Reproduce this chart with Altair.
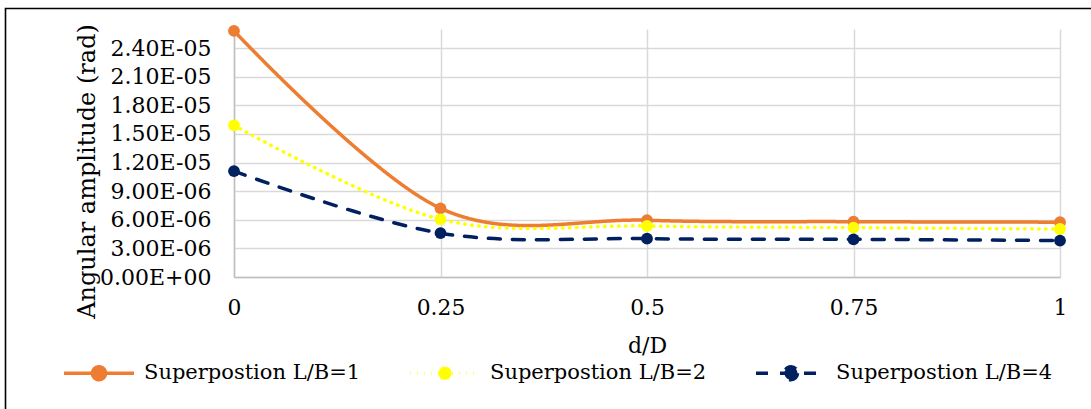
import altair as alt
import pandas as pd

# d/D positions
d_over_D = [0, 0.25, 0.5, 0.75, 1]

series_names = ["Superpostion L/B=1", "Superpostion L/B=2", "Superpostion L/B=4"]

# Angular amplitude (rad) for each aspect ratio
amp_lb1 = [2.58e-05, 7.20e-06, 5.95e-06, 5.80e-06, 5.75e-06]
amp_lb2 = [1.59e-05, 6.05e-06, 5.35e-06, 5.17e-06, 5.03e-06]
amp_lb4 = [1.11e-05, 4.60e-06, 4.02e-06, 3.95e-06, 3.82e-06]

series_colors = ["#ED7D31", "#FFFF00", "#002060"]
series_dashes = [[1, 0], [0.5, 6.5], [12, 12]]

y_tick_values = [0, 3e-06, 6e-06, 9e-06, 1.2e-05, 1.5e-05, 1.8e-05, 2.1e-05, 2.4e-05]
y_max = 2.6e-05

rows = []
for name, values in zip(series_names, [amp_lb1, amp_lb2, amp_lb4]):
    for x, v in zip(d_over_D, values):
        rows.append({"series": name, "dD": x, "amp": v})
df = pd.DataFrame(rows)

# Excel-style scientific labels, e.g. 2.40E-05
sci_label = (
    "datum.value == 0 ? '0.00E+00' : "
    "format(datum.value / pow(10, floor(log(datum.value) / LN10 + 1e-9)), '.2f') + 'E' + "
    "(floor(log(datum.value) / LN10 + 1e-9) < 0 ? '-' : '+') + "
    "(abs(floor(log(datum.value) / LN10 + 1e-9)) < 10 ? '0' : '') + "
    "abs(floor(log(datum.value) / LN10 + 1e-9))"
)

x_enc = alt.X(
    "dD:Q",
    scale=alt.Scale(domain=[0, 1], nice=False, zero=False),
    axis=alt.Axis(
        values=d_over_D,
        tickCount=len(d_over_D),
        labelExpr="'' + datum.value",
        title="d/D",
        ticks=False,
        labelFontSize=21.8,
        labelPadding=20,
        labelFlush=False,
        labelOverlap=False,
        titleFontSize=22,
        titleFontWeight="normal",
        titleY=68,
        titleX=413,
        titleBaseline="middle",
        titleAlign="center",
        grid=True,
    ),
)
y_enc = alt.Y(
    "amp:Q",
    scale=alt.Scale(domain=[0, y_max], nice=False),
    axis=alt.Axis(
        values=y_tick_values,
        tickCount=len(y_tick_values),
        labelExpr=sci_label,
        title="Angular amplitude (rad)",
        ticks=False,
        labelFontSize=22,
        labelPadding=23,
        labelOverlap=False,
        labelFlush=False,
        titleFontSize=24,
        titleFontWeight="normal",
        titleAngle=-90,
        titleX=-147,
        titleY=142,
        titleAlign="center",
        titleBaseline="middle",
        grid=True,
    ),
)

color_scale = alt.Scale(domain=series_names, range=series_colors)
dash_scale = alt.Scale(domain=series_names, range=series_dashes)

legend = alt.Legend(
    title=None,
    orient="none",
    direction="horizontal",
    legendX=-147,
    legendY=332,
    symbolType="M-3.5,0H3.5M0.65,0A0.65,0.65,0,1,1,-0.65,0A0.65,0.65,0,1,1,0.65,0Z",
    symbolSize=400,
    symbolStrokeWidth=3.5,
    labelFontSize=21,
    labelLimit=0,
    labelOffset=33,
    columnPadding=42,
)

lines = alt.Chart(df).mark_line(
    interpolate="cardinal", strokeWidth=3.5, strokeCap="round"
).encode(
    x=x_enc,
    y=y_enc,
    color=alt.Color("series:N", scale=color_scale, legend=legend),
    strokeDash=alt.StrokeDash("series:N", scale=dash_scale, legend=legend),
    detail="series:N",
)

points = alt.Chart(df).mark_point(filled=True, size=140, opacity=1).encode(
    x="dD:Q",
    y="amp:Q",
    fill=alt.Fill("series:N", scale=color_scale, legend=legend),
)

# outer frame around the chart
frame = alt.Chart(pd.DataFrame({"k": [0]})).mark_rect(
    filled=False, stroke="black", strokeWidth=1.6
).encode(
    x=alt.value(-228.5),
    x2=alt.value(900),
    y=alt.value(-20.5),
    y2=alt.value(420),
)

chart = alt.layer(lines, points, frame).properties(
    width=826,
    height=248,
    autosize=alt.AutoSizeParams(type="none"),
    padding={"left": 234, "top": 29, "right": 31, "bottom": 132},
    background="white",
).configure(
    font="DejaVu Serif",
).configure_view(
    stroke=None,
).configure_axis(
    gridColor="#D9D9D9",
    gridWidth=1.5,
    domainColor="#BFBFBF",
    domainWidth=1.5,
    labelColor="black",
    titleColor="black",
    labelFont="DejaVu Serif",
    titleFont="DejaVu Serif",
).configure_legend(
    labelColor="black",
    labelFont="DejaVu Serif",
)

chart.save("out.html", embed_options={"renderer": "svg", "actions": False})
